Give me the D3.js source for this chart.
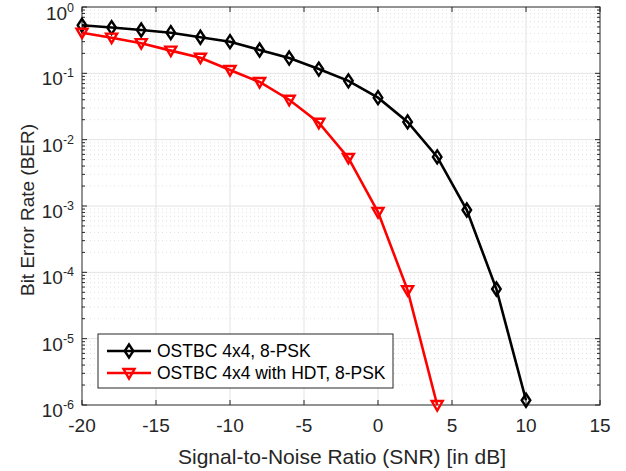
<!DOCTYPE html>
<html>
<head>
<meta charset="utf-8">
<script src="https://cdn.jsdelivr.net/npm/d3@7"></script>
<style>
  body { margin: 0; background: #fff; }
  text { font-family: "Liberation Sans", Arial, sans-serif; }
</style>
</head>
<body>
<svg id="chart" width="626" height="471"></svg>
<script>
// data
const snr = [-20, -18, -16, -14, -12, -10, -8, -6, -4, -2, 0, 2, 4, 6, 8, 10]
const berOstbc = [0.53, 0.49, 0.45, 0.41, 0.35, 0.30, 0.225, 0.17, 0.116, 0.077, 0.043, 0.0185, 0.0055, 8.7e-4, 5.6e-5, 1.18e-6]
const snrHdt = [-20, -18, -16, -14, -12, -10, -8, -6, -4, -2, 0, 2, 4]
const berHdt = [0.41, 0.345, 0.285, 0.22, 0.172, 0.112, 0.074, 0.04, 0.018, 0.0053, 8.1e-4, 5.4e-5, 1.0e-6]
const xTicks = [-20, -15, -10, -5, 0, 5, 10, 15]
const yDecades = [0, -1, -2, -3, -4, -5, -6]
const legendLabels = ["OSTBC 4x4, 8-PSK", "OSTBC 4x4 with HDT, 8-PSK"]

const svg = d3.select("#chart")
const m = {left: 82, top: 7, right: 600, bottom: 405}
const x = d3.scaleLinear().domain([-20, 15]).range([m.left, m.right])
const y = d3.scaleLog().domain([1e-6, 1]).range([m.bottom, m.top])
const axisCol = "#262626"

// minor log positions
let minor = []
for(let e = -6; e < 0; e++)
	for(let k = 2; k <= 9; k++) minor.push(k*Math.pow(10, e))

const grid = svg.append("g")
grid.selectAll(".mg").data(minor).join("line")
	.attr("x1", m.left).attr("x2", m.right)
	.attr("y1", d=>y(d)).attr("y2", d=>y(d))
	.attr("stroke", "#d8d8d8").attr("stroke-width", 0.8)
	.attr("stroke-dasharray", "1,3")
grid.selectAll(".gy").data(yDecades.slice(1, -1)).join("line")
	.attr("x1", m.left).attr("x2", m.right)
	.attr("y1", d=>y(Math.pow(10, d))).attr("y2", d=>y(Math.pow(10, d)))
	.attr("stroke", "#e3e3e3").attr("stroke-width", 1)
grid.selectAll(".gx").data(xTicks.slice(1, -1)).join("line")
	.attr("x1", d=>x(d)).attr("x2", d=>x(d))
	.attr("y1", m.top).attr("y2", m.bottom)
	.attr("stroke", "#e3e3e3").attr("stroke-width", 1)

// axes (ticks inward, box on all sides)
const ax = svg.append("g").attr("stroke", axisCol).attr("stroke-width", 1)
xTicks.forEach(t=>{
	ax.append("line").attr("x1", x(t)).attr("x2", x(t)).attr("y1", m.bottom).attr("y2", m.bottom-5)
	ax.append("line").attr("x1", x(t)).attr("x2", x(t)).attr("y1", m.top).attr("y2", m.top+5)
})
yDecades.forEach(e=>{
	let yy = y(Math.pow(10, e))
	ax.append("line").attr("x1", m.left).attr("x2", m.left+5).attr("y1", yy).attr("y2", yy)
	ax.append("line").attr("x1", m.right).attr("x2", m.right-5).attr("y1", yy).attr("y2", yy)
})
minor.forEach(v=>{
	let yy = y(v)
	ax.append("line").attr("x1", m.left).attr("x2", m.left+3).attr("y1", yy).attr("y2", yy)
	ax.append("line").attr("x1", m.right).attr("x2", m.right-3).attr("y1", yy).attr("y2", yy)
})
svg.append("rect").attr("x", m.left).attr("y", m.top)
	.attr("width", m.right-m.left).attr("height", m.bottom-m.top)
	.attr("fill", "none").attr("stroke", axisCol).attr("stroke-width", 1)

// tick labels
svg.append("g").selectAll("text").data(xTicks).join("text")
	.attr("x", d=>x(d)).attr("y", 432)
	.attr("text-anchor", "middle").attr("font-size", 19).attr("fill", axisCol)
	.text(d=>d)
const yl = svg.append("g").selectAll("text").data(yDecades).join("text")
	.attr("x", 74).attr("y", d=>Math.max(20, y(Math.pow(10, d))+12))
	.attr("text-anchor", "end").attr("font-size", 19).attr("fill", axisCol)
yl.append("tspan").text("10")
yl.append("tspan").attr("dy", -8).attr("font-size", 12.5).text(d=>d)

// axis titles
svg.append("text").attr("x", 342).attr("y", 464)
	.attr("text-anchor", "middle").attr("font-size", 21).attr("fill", axisCol)
	.text("Signal-to-Noise Ratio (SNR) [in dB]")
svg.append("text").attr("transform", "translate(34,210) rotate(-90)")
	.attr("text-anchor", "middle").attr("font-size", 19).attr("fill", axisCol)
	.text("Bit Error Rate (BER)")

// series
const series = [
	{xs: snr, ys: berOstbc, color: "#000000", marker: "diamond"},
	{xs: snrHdt, ys: berHdt, color: "#ff0000", marker: "tri"}
]
const line = d3.line().x(d=>x(d[0])).y(d=>y(d[1]))
function markerPath(type){
	if(type==="diamond") return "M0,-6.5L4.3,0L0,6.5L-4.3,0Z"
	return "M-5.5,-4L5.5,-4L0,5.5Z"
}
series.forEach(s=>{
	let pts = s.xs.map((v, i)=>[v, s.ys[i]])
	svg.append("path").datum(pts).attr("d", line)
		.attr("fill", "none").attr("stroke", s.color).attr("stroke-width", 2.6)
	svg.append("g").selectAll("path").data(pts).join("path")
		.attr("transform", d=>`translate(${x(d[0])},${y(d[1])})`)
		.attr("d", markerPath(s.marker))
		.attr("fill", "none").attr("stroke", s.color).attr("stroke-width", 2.4)
})

// legend
const lg = svg.append("g")
lg.append("rect").attr("x", 98).attr("y", 334).attr("width", 295).attr("height", 54)
	.attr("fill", "#fff").attr("stroke", axisCol).attr("stroke-width", 1)
series.forEach((s, i)=>{
	let yy = 351+i*22
	lg.append("line").attr("x1", 107).attr("x2", 151).attr("y1", yy).attr("y2", yy)
		.attr("stroke", s.color).attr("stroke-width", 2.6)
	lg.append("path").attr("transform", `translate(129,${yy})`).attr("d", markerPath(s.marker))
		.attr("fill", "none").attr("stroke", s.color).attr("stroke-width", 2.4)
	lg.append("text").attr("x", 157).attr("y", yy+6).attr("font-size", 17.5).attr("fill", "#000")
		.text(legendLabels[i])
})
</script>
</body>
</html>
